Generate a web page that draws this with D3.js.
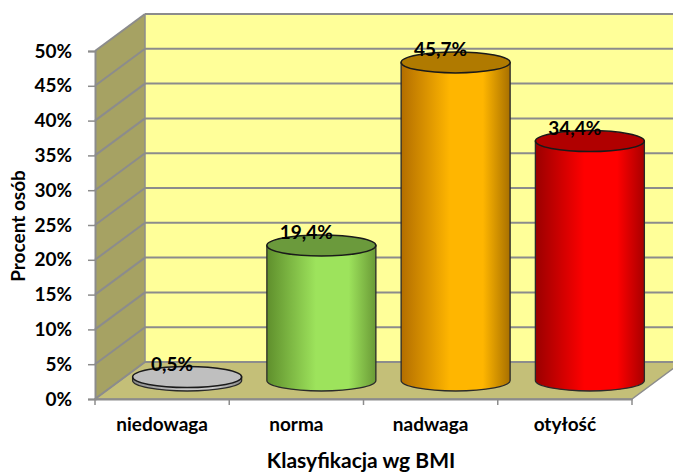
<!DOCTYPE html>
<html>
<head>
<meta charset="utf-8">
<script src="https://cdn.jsdelivr.net/npm/d3@7"></script>
<style>
  body { margin: 0; background: #fff; }
  text { font-family: Lato, "Open Sans", sans-serif; font-weight: bold; }
</style>
</head>
<body>
<svg id="chart" width="673" height="473"></svg>
<script>
const categories = ["niedowaga", "norma", "nadwaga", "otyłość"];
const values = [0.5, 19.4, 45.7, 34.4];
const labels = ["0,5%", "19,4%", "45,7%", "34,4%"];
const yTicks = [0, 5, 10, 15, 20, 25, 30, 35, 40, 45, 50];
const sideColors = [
  ["#8a8a8a", "#c8c8c8", "#8a8a8a"],
  ["#5f8f2c", "#9de35c", "#6a9a36"],
  ["#b36e00", "#ffb600", "#a87000"],
  ["#9a0000", "#ff0000", "#a80000"]
];
const topColors = ["#bfbfbf", "#6b9a3c", "#b07a00", "#b00000"];

const svg = d3.select("#chart");
const margin = { left: 95, top: 51, right: 41, bottom: 74 };
const depthX = 50, depthY = -37;

const x = d3.scaleBand()
    .domain(categories)
    .range([margin.left, 632]);

const y = d3.scaleLinear()
    .domain([0, 50])
    .range([399, margin.top]);

const x0 = x.range()[0], x1 = x.range()[1];
const yBottom = y(0), yTop = y(50);

// side wall
svg.append("polygon")
    .attr("points", [[x0, yTop], [x0 + depthX, yTop + depthY], [x0 + depthX, yBottom + depthY], [x0, yBottom]].join(" "))
    .attr("fill", "#a6a263");

// back wall
svg.append("rect")
    .attr("x", x0 + depthX)
    .attr("y", yTop + depthY)
    .attr("width", x1 - x0)
    .attr("height", yBottom - yTop)
    .attr("fill", "#ffff99");

// floor
svg.append("polygon")
    .attr("points", [[x0, yBottom], [x1, yBottom], [x1 + depthX, yBottom + depthY], [x0 + depthX, yBottom + depthY]].join(" "))
    .attr("fill", "#c4bf78")
    .attr("stroke", "#8c8c8c")
    .attr("stroke-width", 1.5);

// gridlines on side wall and back wall
yTicks.forEach(t => {
  const yy = y(t);
  svg.append("line")
      .attr("x1", x0).attr("y1", yy)
      .attr("x2", x0 + depthX).attr("y2", yy + depthY)
      .attr("stroke", "#8c8c8c").attr("stroke-width", 2);
  svg.append("line")
      .attr("x1", x0 + depthX).attr("y1", yy + depthY)
      .attr("x2", x1 + depthX + 5).attr("y2", yy + depthY)
      .attr("stroke", "#8c8c8c").attr("stroke-width", 2);
});

// back wall left edge
svg.append("line")
    .attr("x1", x0 + depthX).attr("y1", yTop + depthY)
    .attr("x2", x0 + depthX).attr("y2", yBottom + depthY)
    .attr("stroke", "#8c8c8c").attr("stroke-width", 1.5);

// y axis
const yAxis = svg.append("g")
    .attr("transform", "translate(" + x0 + ",0)")
    .call(d3.axisLeft(y).tickValues(yTicks).tickFormat(d => d + "%").tickSize(7).tickPadding(16));
yAxis.select(".domain").attr("stroke", "#8c8c8c").attr("stroke-width", 2);
yAxis.selectAll(".tick line").attr("stroke", "#8c8c8c").attr("stroke-width", 1.5);
yAxis.selectAll(".tick text")
    .attr("fill", "#000")
    .style("font-size", "19px")
    .style("font-family", "Lato, sans-serif")
    .style("font-weight", "bold");

// x axis
const xAxis = svg.append("g")
    .attr("transform", "translate(0," + yBottom + ")")
    .call(d3.axisBottom(x).tickSize(0).tickPadding(19));
xAxis.select(".domain").attr("stroke", "#8c8c8c").attr("stroke-width", 2);
xAxis.selectAll(".tick text")
    .attr("fill", "#000")
    .style("font-size", "19px")
    .style("font-family", "Lato, sans-serif")
    .style("font-weight", "bold");

// category tick marks on the boundaries
svg.selectAll(".catTick")
    .data(categories.concat(["end"]))
    .enter().append("line")
    .attr("class", "catTick")
    .attr("x1", (d, i) => x0 + i * x.bandwidth())
    .attr("x2", (d, i) => x0 + i * x.bandwidth())
    .attr("y1", yBottom)
    .attr("y2", yBottom + 6)
    .attr("stroke", "#8c8c8c")
    .attr("stroke-width", 1.5);

// gradients
const defs = svg.append("defs");
sideColors.forEach((c, i) => {
  const g = defs.append("linearGradient")
      .attr("id", "side" + i)
      .attr("x1", "0%").attr("x2", "100%").attr("y1", "0%").attr("y2", "0%");
  g.append("stop").attr("offset", "0%").attr("stop-color", c[0]);
  g.append("stop").attr("offset", "45%").attr("stop-color", c[1]);
  g.append("stop").attr("offset", "75%").attr("stop-color", c[1]);
  g.append("stop").attr("offset", "100%").attr("stop-color", c[2]);
});

// cylinders
const rx = 54.5, ry = 10.5;
const cyl = svg.selectAll(".cyl")
    .data(categories)
    .enter().append("g")
    .attr("class", "cyl");

cyl.each(function(d, i) {
  const g = d3.select(this);
  const cx = x(d) + x.bandwidth() / 2 + depthX / 2;
  const yb = y(0) + depthY / 2;
  const yt = y(values[i]) + depthY / 2;
  g.append("path")
      .attr("d", "M" + (cx - rx) + "," + yt +
                 " L" + (cx - rx) + "," + yb +
                 " A" + rx + "," + ry + " 0 0 0 " + (cx + rx) + "," + yb +
                 " L" + (cx + rx) + "," + yt + " Z")
      .attr("fill", "url(#side" + i + ")")
      .attr("stroke", "#2a2a2a")
      .attr("stroke-width", 1.3);
  g.append("ellipse")
      .attr("cx", cx).attr("cy", yt)
      .attr("rx", rx).attr("ry", ry)
      .attr("fill", topColors[i])
      .attr("stroke", "#1a1a1a")
      .attr("stroke-width", 1.5);
  g.append("text")
      .attr("x", cx - 15)
      .attr("y", yt - 6)
      .attr("text-anchor", "middle")
      .style("font-size", "19px")
      .text(labels[i]);
});

// axis titles
svg.append("text")
    .attr("x", 361)
    .attr("y", 468)
    .attr("text-anchor", "middle")
    .style("font-size", "21px")
    .text("Klasyfikacja wg BMI");

svg.append("text")
    .attr("transform", "translate(25,226) rotate(-90)")
    .attr("text-anchor", "middle")
    .style("font-size", "19px")
    .text("Procent osób");
</script>
</body>
</html>
